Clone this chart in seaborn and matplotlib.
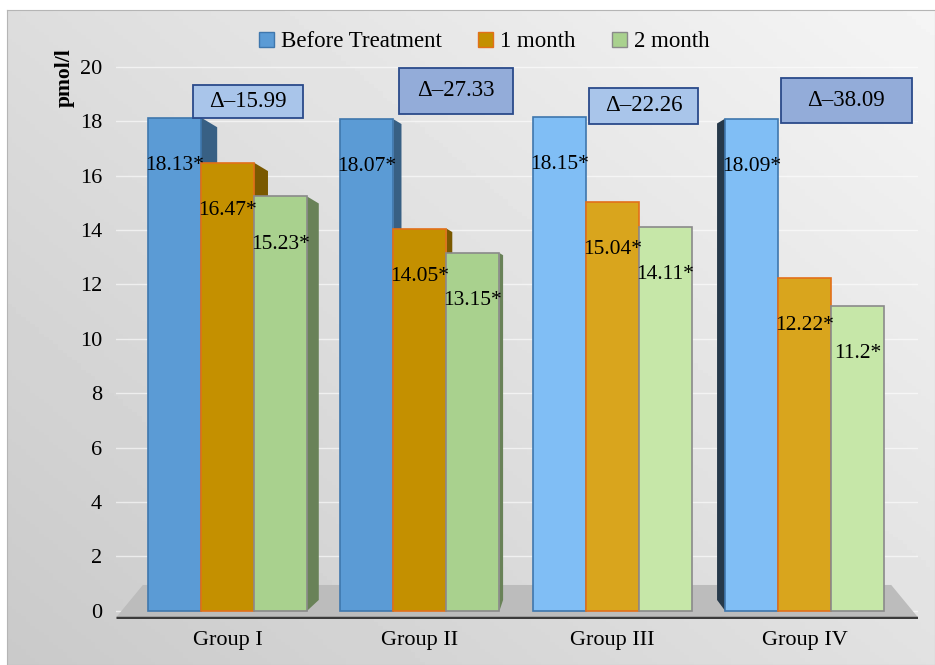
import numpy as np
import pandas as pd
import seaborn as sns
import matplotlib.pyplot as plt
from matplotlib.patches import Polygon, Rectangle, Patch

# data
groups = ["Group I", "Group II", "Group III", "Group IV"]
periods = ["Before Treatment", "1 month", "2 month"]
before = [18.13, 18.07, 18.15, 18.09]
month1 = [16.47, 14.05, 15.04, 12.22]
month2 = [15.23, 13.15, 14.11, 11.2]
deltas = ["Δ–15.99", "Δ–27.33", "Δ–22.26", "Δ–38.09"]
yticks = list(range(0, 21, 2))

df = pd.DataFrame({
    "group": groups * 3,
    "period": np.repeat(periods, len(groups)),
    "value": before + month1 + month2,
})

dark = ["#5b9bd5", "#c49000", "#a9d18e"]
light = ["#80bef5", "#d9a51d", "#c6e7a8"]
edges = ["#3f77ad", "#e2701a", "#8a8a8a"]

plt.rcParams["font.family"] = ["Liberation Serif", "DejaVu Serif"]

fig = plt.figure(figsize=(9.35, 6.65), dpi=100)

# grey gradient panel behind everything
bg = fig.add_axes([0.008, 0.0, 0.992, 0.985], zorder=-10)
gx, gy = np.meshgrid(np.linspace(0, 1, 200), np.linspace(0, 1, 200))
shade = 0.79 + 0.17 * (0.55 * gx + 0.45 * gy)
bg.imshow(shade, cmap="gray", vmin=0, vmax=1, origin="lower",
          extent=[0, 1, 0, 1], aspect="auto")
bg.set_xticks([])
bg.set_yticks([])
for s in bg.spines.values():
    s.set_color("#b5b5b5")

ax = fig.add_axes([0.124, 0.0692, 0.858, 0.851])
ax.patch.set_alpha(0)

sns.barplot(data=df, x="group", y="value", hue="period", order=groups,
            hue_order=periods, palette=dark, saturation=1, width=0.827,
            gap=0, legend=False, ax=ax, zorder=3, linewidth=1.2)

ax.set_xlim(-0.58, 3.59)
ax.set_ylim(-0.3, 20.5)

# fake 3D: side faces and value labels from each bar
sx, sy = 192.3, 27.2
vanish = 1.726
for h, cont in enumerate(ax.containers):
    for g, bar in enumerate(cont):
        if g >= 2:
            bar.set_facecolor(light[h])
        bar.set_edgecolor(edges[h])
        x0 = bar.get_x()
        w = bar.get_width()
        top = bar.get_height()
        cx = x0 + w / 2
        dx = 0.042 * (vanish - cx)
        dy = abs(dx) * sx * 0.6 / sy
        base = np.array(bar.get_facecolor()[:3])
        if dx > 0.01:
            x1 = x0 + w
            pts = [(x1, top), (x1 + dx, top - dy), (x1 + dx, 0.4), (x1, 0)]
            ax.add_patch(Polygon(pts, closed=True, facecolor=base * 0.62,
                                 edgecolor="none", zorder=2.5))
        elif dx < -0.01:
            pts = [(x0, top), (x0 + dx, top - dy), (x0 + dx, 0.4), (x0, 0)]
            ax.add_patch(Polygon(pts, closed=True, facecolor=base * 0.3,
                                 edgecolor="none", zorder=2.5))
        ax.text(cx, top - 1.75, f"{top:g}*", ha="center", va="center",
                fontsize=15.5, zorder=6)

# floor
ax.add_patch(Polygon([(-0.58, -0.25), (-0.44, 0.95), (3.45, 0.95), (3.59, -0.25)],
                     closed=True, facecolor="#bcbcbc", edgecolor="none", zorder=1))
ax.plot([-0.58, 3.59], [-0.25, -0.25], color="#3a3a3a", lw=2.5, zorder=2,
        solid_capstyle="butt")

# delta boxes
boxes = [(-0.182, 18.13, 0.572, 1.21), (0.891, 18.27, 0.593, 1.69),
         (1.880, 17.90, 0.567, 1.33), (2.875, 17.94, 0.681, 1.66)]
box_fill = ["#a9c5ea", "#93acd9", "#a9c5ea", "#93acd9"]
for (bx, by, bw, bh), txt, fc in zip(boxes, deltas, box_fill):
    ax.add_patch(Rectangle((bx, by), bw, bh, facecolor=fc, edgecolor="#2a4a8a",
                           lw=1.3, zorder=7))
    ax.text(bx + bw / 2, by + bh / 2, txt, ha="center", va="center",
            fontsize=16.5, zorder=8)

ax.set_yticks(yticks)
ax.yaxis.grid(True, color="white", lw=1, alpha=0.6)
ax.set_axisbelow(True)
ax.tick_params(axis="both", length=0, labelsize=16)
ax.tick_params(axis="y", pad=10)
ax.tick_params(axis="x", pad=9)
ax.set_xlabel("")
ax.set_ylabel("")
for s in ax.spines.values():
    s.set_visible(False)

handles = [Patch(facecolor=dark[i], edgecolor=edges[i]) for i in range(3)]
fig.legend(handles, periods, loc="center", bbox_to_anchor=(0.518, 0.937),
           ncol=3, frameon=False, fontsize=16.5, handlelength=0.65,
           handleheight=0.65, handletextpad=0.3, columnspacing=1.6)

fig.text(65 / 935, 1 - 78 / 665, "pmol/l", rotation=90, ha="center",
         va="center", fontsize=15.5, fontweight="bold")

fig.savefig("out.png", dpi=100)
